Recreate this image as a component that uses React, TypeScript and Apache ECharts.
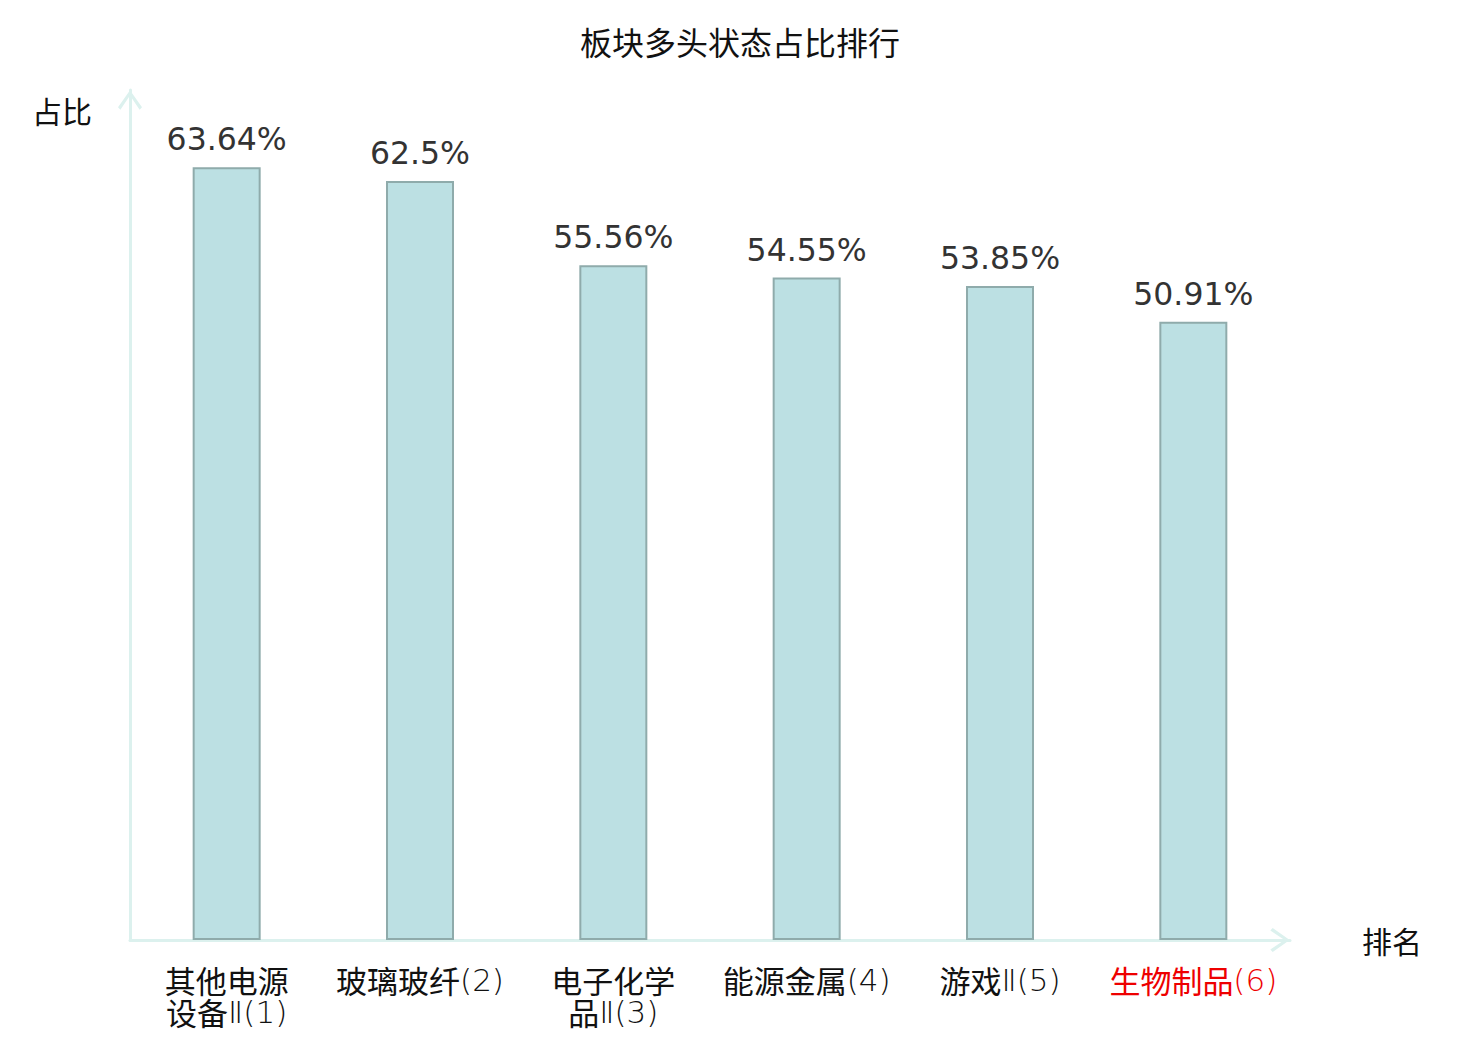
import React, { useEffect, useRef } from "react";
import * as echarts from "echarts";

const titleText = "板块多头状态占比排行";
const categories = ["其他电源设备Ⅱ", "玻璃玻纤", "电子化学品Ⅱ", "能源金属", "游戏Ⅱ", "生物制品"];
const ranks = [1, 2, 3, 4, 5, 6];
const values = [63.64, 62.5, 55.56, 54.55, 53.85, 50.91];
const highlightRank = 6;
const yAxisName = "占比";
const xAxisName = "排名";
const yMax = 70;

const CJK = '"Noto Sans CJK SC", "Noto Sans", sans-serif';
const THIN_FONT = '"DejaVu Sans", sans-serif';
const arrowPath = "path://M12,0 L24,17 L21.6,19.4 L12,5.2 L2.4,19.4 L0,17 Z";

// split a category name into lines (max 4 CJK chars per line); the trailing
// roman numeral and rank are drawn in a thin latin style
function richLabel(name: string, rank: number, hl: boolean): string {
  const a = hl ? "ah" : "a";
  const b = hl ? "bh" : "b";
  let cjk = name;
  let suffix = "";
  if (cjk.endsWith("Ⅱ")) {
    cjk = cjk.slice(0, -1);
    suffix = "Ⅱ";
  }
  suffix += "(" + rank + ")";
  const lines: string[] = [];
  for (let i = 0; i < cjk.length; i += 4) lines.push(cjk.slice(i, i + 4));
  const last = lines.length - 1;
  return lines
    .map((ln, i) => (i === last ? "{" + a + "|" + ln + "}{" + b + "|" + suffix + "}" : "{" + a + "|" + ln + "}"))
    .join("\n");
}

export default function App() {
  const ref = useRef<HTMLDivElement>(null);
  useEffect(() => {
    document.body.style.margin = "0";
    if (!ref.current) return;
    const chart = echarts.init(ref.current, undefined, { renderer: "svg" });
    const axisLineColor = "#dcf1ee";
    const black = "#111";
    const red = "#ee0000";
    const cjkTok = { fontSize: 31, lineHeight: 32, fontFamily: CJK, fontWeight: "normal" };
    const thinTok = { fontSize: 31, lineHeight: 27, verticalAlign: "bottom", fontFamily: THIN_FONT, fontWeight: 200 };
    chart.setOption({
      animation: false,
      backgroundColor: "#ffffff",
      title: {
        text: titleText,
        left: "center",
        top: 20,
        textStyle: { fontFamily: CJK, fontSize: 32, fontWeight: "normal", color: black },
      },
      grid: { left: 130, right: 190, top: 90, bottom: 100, containLabel: false },
      xAxis: {
        type: "category",
        data: categories,
        name: xAxisName,
        nameLocation: "end",
        nameGap: 72,
        nameTextStyle: { fontFamily: CJK, fontSize: 30, color: black },
        axisLine: {
          show: true,
          lineStyle: { color: axisLineColor, width: 3 },
          symbol: ["none", arrowPath],
          symbolSize: [24, 20],
          symbolOffset: [0, -10],
        },
        axisTick: { show: false },
        axisLabel: {
          interval: 0,
          margin: 23,
          fontSize: 31,
          lineHeight: 32,
          formatter: (v: string, idx: number) => richLabel(v, ranks[idx], ranks[idx] === highlightRank),
          rich: {
            a: { ...cjkTok, color: black },
            b: { ...thinTok, color: black },
            ah: { ...cjkTok, color: red },
            bh: { ...thinTok, color: red },
          },
        },
        splitLine: { show: false },
      },
      yAxis: {
        type: "value",
        min: 0,
        max: yMax,
        name: yAxisName,
        nameLocation: "end",
        nameGap: -20,
        nameTextStyle: {
          fontFamily: CJK,
          fontSize: 30,
          color: black,
          align: "right",
          verticalAlign: "middle",
          padding: [0, 38, 0, 0],
        },
        axisLine: {
          show: true,
          lineStyle: { color: axisLineColor, width: 3 },
          symbol: ["none", arrowPath],
          symbolSize: [24, 20],
          symbolOffset: [0, -10],
        },
        axisTick: { show: false },
        axisLabel: { show: false },
        splitLine: { show: false },
      },
      series: [
        {
          type: "bar",
          data: values,
          barWidth: 68,
          itemStyle: { color: "#bce0e3", borderColor: "#8fabab", borderWidth: 2 },
          label: {
            show: true,
            position: "top",
            distance: 12,
            formatter: "{c}%",
            fontFamily: '"DejaVu Sans", sans-serif',
            fontSize: 31.5,
            color: "#333",
          },
        },
      ],
    });
    return () => chart.dispose();
  }, []);
  return <div ref={ref} style={{ width: 1480, height: 1040 }} />;
}
